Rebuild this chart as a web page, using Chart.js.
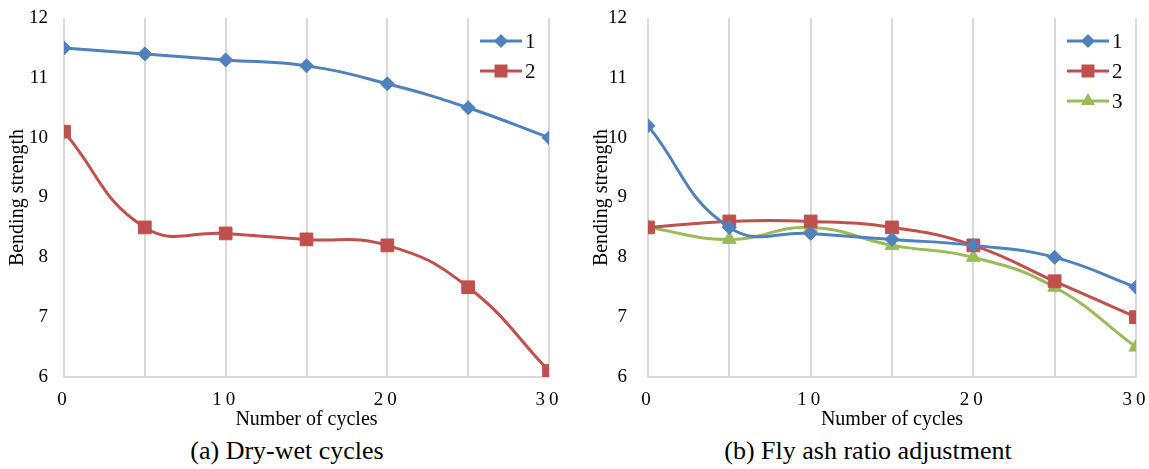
<!DOCTYPE html>
<html lang="en">
<head>
    <meta charset="UTF-8">
    <title>Bending strength vs cycles</title>
    <script src="https://cdn.jsdelivr.net/npm/chart.js"></script>
    <style>
        body {
            margin: 0;
            padding: 0;
            background: #fff;
            width: 1149px;
            height: 469px;
            position: relative;
            overflow: hidden;
            font-family: 'Liberation Serif', 'Times New Roman', serif;
        }
        canvas {
            position: absolute;
            top: 0;
        }
        #chartA { left: 0; }
        #chartB { left: 584px; }
        .caption {
            position: absolute;
            top: 436px;
            font-size: 26px;
            line-height: 30px;
            color: #000;
            white-space: nowrap;
            transform: translateX(-50%);
        }
    </style>
</head>
<body>
    <canvas id="chartA" width="575" height="433"></canvas>
    <canvas id="chartB" width="565" height="433"></canvas>
    <div class="caption" style="left: 287px;">(a) Dry-wet cycles</div>
    <div class="caption" style="left: 868px;">(b) Fly ash ratio adjustment</div>

    <script>
        // data
        const cycles = [0, 5, 10, 15, 20, 25, 30];
        const labeledCycles = [0, 10, 20, 30];

        const dryWet1 = [11.5, 11.4, 11.3, 11.2, 10.9, 10.5, 10.0];
        const dryWet2 = [10.1, 8.5, 8.4, 8.3, 8.2, 7.5, 6.1];

        const flyAsh1 = [10.2, 8.5, 8.4, 8.3, 8.2, 8.0, 7.5];
        const flyAsh2 = [8.5, 8.6, 8.6, 8.5, 8.2, 7.6, 7.0];
        const flyAsh3 = [8.5, 8.3, 8.5, 8.2, 8.0, 7.5, 6.5];

        const yMin = 6, yMax = 12;

        const BLUE = '#4F81BD';
        const RED = '#C0504D';
        const GREEN = '#9BBB59';
        const GRID = '#d9d9d9';
        const SERIF = "'Liberation Serif', 'Times New Roman', serif";

        function toPoints(values) {
            return cycles.map((c, i) => ({ x: c, y: values[i] }));
        }

        function series(label, values, color, style, radius) {
            return {
                label: label,
                data: toPoints(values),
                borderColor: color,
                backgroundColor: color,
                borderWidth: 3,
                pointStyle: style,
                pointRadius: radius,
                pointHoverRadius: radius,
                pointBorderWidth: 1,
                tension: 0.45
            };
        }

        // small markers for the legend, drawn by hand
        function drawMarker(ctx, style, x, y, color) {
            ctx.fillStyle = color;
            ctx.beginPath();
            if (style === 'rectRot') {
                ctx.moveTo(x, y - 7);
                ctx.lineTo(x + 7, y);
                ctx.lineTo(x, y + 7);
                ctx.lineTo(x - 7, y);
            } else if (style === 'rect') {
                ctx.rect(x - 6.5, y - 6.5, 13, 13);
            } else {
                ctx.moveTo(x, y - 8);
                ctx.lineTo(x + 7, y + 4);
                ctx.lineTo(x - 7, y + 4);
            }
            ctx.closePath();
            ctx.fill();
        }

        const inlineLegend = {
            id: 'inlineLegend',
            afterDatasetsDraw(chart) {
                const { ctx, chartArea } = chart;
                const x0 = chartArea.right - 69;
                chart.data.datasets.forEach((ds, i) => {
                    const y = chartArea.top + 23 + i * 30;
                    ctx.save();
                    ctx.strokeStyle = ds.borderColor;
                    ctx.lineWidth = 3;
                    ctx.beginPath();
                    ctx.moveTo(x0, y);
                    ctx.lineTo(x0 + 42, y);
                    ctx.stroke();
                    drawMarker(ctx, ds.pointStyle, x0 + 21, y, ds.borderColor);
                    ctx.fillStyle = '#000';
                    ctx.font = '21px ' + SERIF;
                    ctx.textBaseline = 'middle';
                    ctx.fillText(ds.label, x0 + 45, y + 1);
                    ctx.restore();
                });
            }
        };

        function makeChart(id, datasets, rightPad, yTickPad) {
            const chart = new Chart(document.getElementById(id), {
                type: 'line',
                data: { datasets: datasets },
                plugins: [inlineLegend],
                options: {
                    responsive: false,
                    animation: false,
                    layout: { padding: { top: 18, right: rightPad, left: 0, bottom: 0 } },
                    plugins: {
                        legend: { display: false },
                        tooltip: { enabled: false }
                    },
                    scales: {
                        x: {
                            type: 'linear',
                            min: 0,
                            max: 30,
                            afterFit: s => {
                                s.height = 56;
                                s.paddingLeft = 0;
                                s.paddingRight = 0;
                            },
                            ticks: {
                                stepSize: 5,
                                padding: 12,
                                color: '#000',
                                font: { family: SERIF, size: 19 },
                                maxRotation: 0,
                                callback: v => labeledCycles.includes(v) ? String(v) : ''
                            },
                            grid: { color: GRID, lineWidth: 2, drawTicks: false },
                            border: { display: true, color: GRID, width: 2 },
                            title: {
                                display: true,
                                text: 'Number of cycles',
                                color: '#000',
                                font: { family: SERIF, size: 20 },
                                padding: { top: 0, bottom: 1 }
                            }
                        },
                        y: {
                            min: yMin,
                            max: yMax,
                            afterFit: s => {
                                s.width = 64;
                                s.paddingTop = 0;
                                s.paddingBottom = 0;
                            },
                            ticks: {
                                stepSize: 1,
                                padding: yTickPad,
                                color: '#000',
                                font: { family: SERIF, size: 19 }
                            },
                            grid: { display: false, drawTicks: false },
                            border: { display: false },
                            title: {
                                display: true,
                                text: 'Bending strength',
                                color: '#000',
                                font: { family: SERIF, size: 20 },
                                padding: { top: 6, bottom: 0 }
                            }
                        }
                    }
                }
            });

            // the x tick numbers are spread out a little in the original
            const xs = chart.scales.x;
            const drawLabels = xs.drawLabels.bind(xs);
            xs.drawLabels = function (area) {
                this.ctx.letterSpacing = '4px';
                drawLabels(area);
                this.ctx.letterSpacing = '0px';
            };
            chart.draw();
            return chart;
        }

        makeChart('chartA', [
            series('1', dryWet1, BLUE, 'rectRot', 7),
            series('2', dryWet2, RED, 'rect', 9)
        ], 26, 16);

        makeChart('chartB', [
            series('1', flyAsh1, BLUE, 'rectRot', 7),
            series('2', flyAsh2, RED, 'rect', 9),
            series('3', flyAsh3, GREEN, 'triangle', 8)
        ], 13, 21);
    </script>
</body>
</html>
